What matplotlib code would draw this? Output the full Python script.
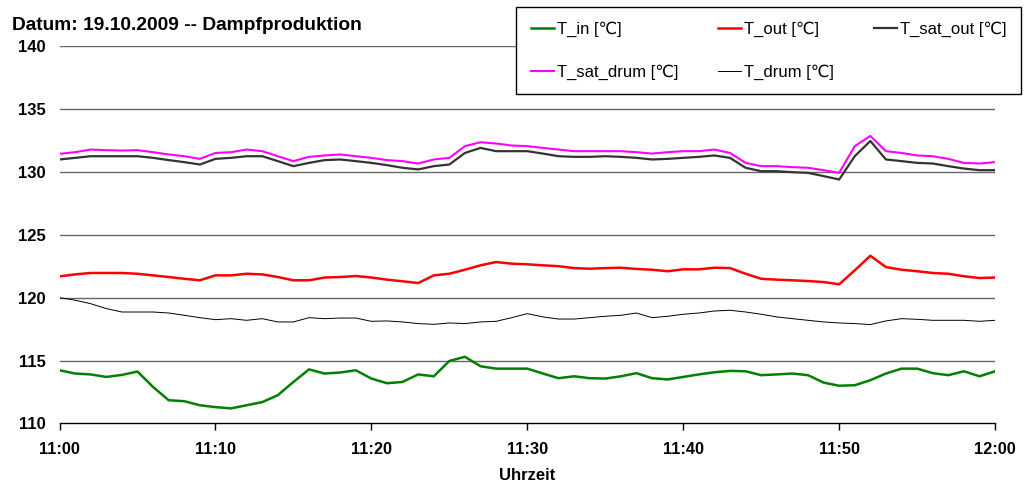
import matplotlib.pyplot as plt

plt.rcParams['font.family'] = ['Liberation Sans', 'DejaVu Sans']

# -----------------------------
# DATA (1-minute steps from 11:00 to 12:00)
# -----------------------------
minutes = list(range(61))

t_in = [114.23, 113.97, 113.90, 113.70, 113.86, 114.13, 112.90, 111.85, 111.77, 111.45,
        111.30, 111.20, 111.45, 111.70, 112.25, 113.30, 114.30, 113.97, 114.05, 114.23,
        113.57, 113.20, 113.30, 113.90, 113.75, 114.97, 115.30, 114.55, 114.36, 114.36,
        114.36, 113.97, 113.60, 113.75, 113.60, 113.57, 113.75, 114.00, 113.60, 113.50,
        113.70, 113.90, 114.07, 114.18, 114.15, 113.84, 113.90, 113.97, 113.84, 113.25,
        113.00, 113.04, 113.44, 113.97, 114.36, 114.36, 114.00, 113.84, 114.15, 113.75,
        114.15]

t_out = [121.69, 121.85, 121.96, 121.96, 121.96, 121.90, 121.77, 121.64, 121.50, 121.38,
         121.77, 121.77, 121.90, 121.85, 121.64, 121.38, 121.38, 121.60, 121.64, 121.72,
         121.60, 121.43, 121.30, 121.16, 121.77, 121.90, 122.22, 122.57, 122.83, 122.70,
         122.65, 122.57, 122.50, 122.35, 122.30, 122.35, 122.38, 122.28, 122.22, 122.10,
         122.25, 122.25, 122.38, 122.35, 121.90, 121.50, 121.43, 121.38, 121.32, 121.24,
         121.06, 122.17, 123.33, 122.43, 122.22, 122.10, 121.96, 121.90, 121.70, 121.56,
         121.60]

t_sat_out = [130.98, 131.11, 131.24, 131.24, 131.24, 131.24, 131.11, 130.93, 130.77, 130.58,
             131.03, 131.11, 131.24, 131.24, 130.85, 130.45, 130.71, 130.93, 130.98, 130.85,
             130.71, 130.53, 130.32, 130.19, 130.45, 130.58, 131.50, 131.90, 131.64, 131.64,
             131.64, 131.45, 131.24, 131.19, 131.19, 131.24, 131.19, 131.11, 130.98, 131.03,
             131.11, 131.19, 131.30, 131.11, 130.32, 130.05, 130.05, 129.97, 129.92, 129.66,
             129.39, 131.24, 132.45, 130.98, 130.85, 130.71, 130.66, 130.45, 130.26, 130.13,
             130.13]

t_sat_drum = [131.43, 131.56, 131.77, 131.72, 131.69, 131.72, 131.56, 131.38, 131.24, 131.03,
              131.50, 131.56, 131.77, 131.64, 131.24, 130.85, 131.19, 131.30, 131.38, 131.24,
              131.11, 130.93, 130.85, 130.66, 130.98, 131.11, 132.04, 132.35, 132.25, 132.09,
              132.04, 131.90, 131.77, 131.64, 131.64, 131.64, 131.64, 131.56, 131.45, 131.56,
              131.64, 131.64, 131.77, 131.50, 130.71, 130.45, 130.45, 130.37, 130.32, 130.13,
              129.92, 132.04, 132.85, 131.64, 131.50, 131.30, 131.24, 131.03, 130.71, 130.66,
              130.77]

t_drum = [120.00, 119.80, 119.52, 119.13, 118.86, 118.86, 118.86, 118.78, 118.60, 118.41,
          118.25, 118.33, 118.20, 118.33, 118.07, 118.07, 118.41, 118.33, 118.38, 118.38,
          118.12, 118.15, 118.07, 117.94, 117.88, 117.99, 117.94, 118.07, 118.12, 118.41,
          118.73, 118.47, 118.30, 118.30, 118.41, 118.52, 118.60, 118.78, 118.41, 118.52,
          118.68, 118.78, 118.94, 119.00, 118.86, 118.68, 118.47, 118.33, 118.20, 118.07,
          117.99, 117.94, 117.86, 118.15, 118.33, 118.28, 118.20, 118.20, 118.20, 118.12,
          118.20]

xtick_pos = [0, 10, 20, 30, 40, 50, 60]
xtick_labels = ["11:00", "11:10", "11:20", "11:30", "11:40", "11:50", "12:00"]
ytick_vals = [110, 115, 120, 125, 130, 135, 140]

# -----------------------------
# PLOT
# -----------------------------
fig = plt.figure(figsize=(10.3, 4.83), dpi=100)
ax = fig.add_axes([0.0578, 0.1232, 0.9083, 0.7816])

for y in ytick_vals[1:]:
    ax.axhline(y, color="#666666", lw=1.0, zorder=1)

ax.plot(minutes, t_in, color="#008000", lw=1.8, label="T_in [℃]", zorder=3)
ax.plot(minutes, t_out, color="#ff0000", lw=1.8, label="T_out [℃]", zorder=3)
ax.plot(minutes, t_sat_drum, color="#ff00ff", lw=1.5, label="T_sat_drum [℃]", zorder=3)
ax.plot(minutes, t_sat_out, color="#333333", lw=1.6, label="T_sat_out [℃]", zorder=4)
ax.plot(minutes, t_drum, color="black", lw=0.7, label="T_drum [℃]", zorder=3)

ax.set_xlim(0, 60)
ax.set_ylim(110, 140)
ax.set_xticks(xtick_pos)
ax.set_xticklabels(xtick_labels, fontsize=11.8, fontweight="bold")
ax.set_yticks(ytick_vals)
ax.set_yticklabels([str(v) for v in ytick_vals], fontsize=12, fontweight="bold")
ax.tick_params(axis="x", direction="out", length=5, width=1, pad=8)
ax.tick_params(axis="y", length=0, pad=10)
for s in ["left", "right", "top"]:
    ax.spines[s].set_visible(False)
ax.spines["bottom"].set_color("black")
ax.spines["bottom"].set_linewidth(1)
ax.set_xlabel("Uhrzeit", fontsize=12, fontweight="bold", labelpad=8)

# legend: row 1 T_in, T_out, T_sat_out; row 2 T_sat_drum, T_drum
h, l = ax.get_legend_handles_labels()
order = [0, 2, 1, 4, 3]
leg = fig.legend([h[i] for i in order], [l[i] for i in order], ncol=3,
                 loc="upper right", bbox_to_anchor=(0.9913, 0.9855),
                 fontsize=12, frameon=True, fancybox=False, framealpha=1,
                 edgecolor="black", borderaxespad=0, borderpad=0.86,
                 handlelength=1.4, handletextpad=0.2, labelspacing=1.66,
                 columnspacing=2.35)
leg.get_frame().set_linewidth(1)

fig.text(0.012, 0.938, "Datum: 19.10.2009 -- Dampfproduktion", fontsize=13.8,
         fontweight="bold", ha="left", va="baseline")

fig.savefig("out.png", dpi=100)
